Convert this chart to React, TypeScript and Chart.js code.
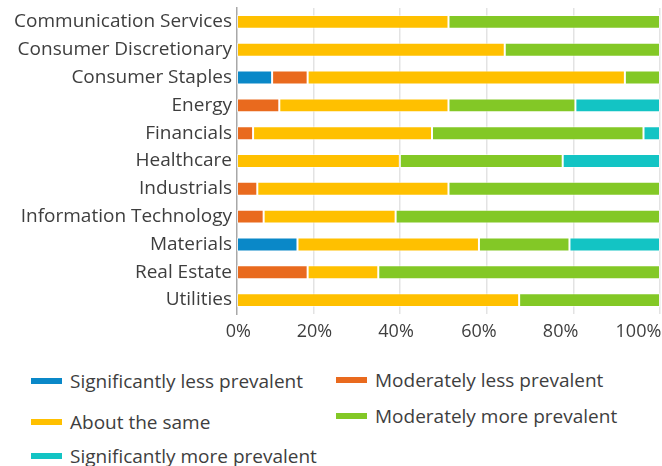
import React, { useEffect, useRef } from 'react';
import { Chart, registerables } from 'chart.js';

Chart.register(...registerables);

const CATEGORIES = [
  'Communication Services',
  'Consumer Discretionary',
  'Consumer Staples',
  'Energy',
  'Financials',
  'Healthcare',
  'Industrials',
  'Information Technology',
  'Materials',
  'Real Estate',
  'Utilities',
];

const SERIES_NAMES = [
  'Significantly less prevalent',
  'Moderately less prevalent',
  'About the same',
  'Moderately more prevalent',
  'Significantly more prevalent',
];

const SIG_LESS = [0, 0, 8.3, 0, 0, 0, 0, 0, 14.3, 0, 0];
const MOD_LESS = [0, 0, 8.4, 10, 3.8, 0, 4.8, 6.3, 0, 16.7, 0];
const ABOUT_SAME = [50, 63.3, 75, 40, 42.3, 38.5, 45.2, 31.2, 42.9, 16.7, 66.7];
const MOD_MORE = [50, 36.7, 8.3, 30, 50, 38.5, 50, 62.5, 21.4, 66.6, 33.3];
const SIG_MORE = [0, 0, 0, 20, 3.9, 23, 0, 0, 21.4, 0, 0];

const TICK_LABELS = ['0%', '20%', '40%', '60%', '80%', '100%'];

const COLORS = ['#0a88c8', '#e96a1e', '#ffc000', '#83c826', '#13c4c4'];

// layout / styling constants (not data)
const FONT = "'Open Sans', sans-serif";
const TEXT = '#3e3e3e';
const GRID_POS = [18.04, 38.53, 59.03, 79.5, 100];
const LABEL_POS = [0.3, 18.3, 37.6, 57.2, 76.5, 94.9];
const LEGEND_POS = [
  { left: 31, top: 369 },
  { left: 336, top: 368 },
  { left: 31, top: 410 },
  { left: 336, top: 404 },
  { left: 31, top: 444 },
];

export default function App() {
  const ref = useRef<HTMLCanvasElement | null>(null);

  useEffect(() => {
    const series = [SIG_LESS, MOD_LESS, ABOUT_SAME, MOD_MORE, SIG_MORE];
    const chart = new Chart(ref.current as HTMLCanvasElement, {
      type: 'bar',
      data: {
        labels: CATEGORIES,
        datasets: SERIES_NAMES.map((name, i) => ({
          label: name,
          data: series[i],
          backgroundColor: COLORS[i],
          borderColor: 'rgba(255,255,255,0.55)',
          borderWidth: 1,
          borderSkipped: false,
          barPercentage: 0.5,
          categoryPercentage: 1,
          xAxisID: 'x',
        })),
      },
      options: {
        indexAxis: 'y',
        animation: false,
        responsive: true,
        maintainAspectRatio: false,
        layout: { padding: { left: 0, right: 2, top: 8, bottom: 0 } },
        plugins: { legend: { display: false }, tooltip: { enabled: false } },
        scales: {
          y: {
            stacked: true,
            grid: { display: false, drawTicks: false },
            border: { display: true, color: '#a8a8a8', width: 1.5 },
            ticks: { padding: 5, color: TEXT, font: { family: FONT, size: 19 } },
            afterFit: (s: any) => {
              s.width = 237;
              s.paddingTop = 0;
              s.paddingBottom = 0;
            },
          },
          x: {
            type: 'linear',
            stacked: true,
            min: 0,
            max: 100,
            position: 'bottom',
            grid: { color: '#e3e3e3', lineWidth: 1.5, drawTicks: false },
            border: { display: false },
            ticks: { display: false },
            afterBuildTicks: (s: any) => {
              s.ticks = GRID_POS.map((v) => ({ value: v }));
            },
            afterFit: (s: any) => {
              s.height = 0;
              s.paddingLeft = 0;
              s.paddingRight = 0;
            },
          },
          xl: {
            type: 'linear',
            min: 0,
            max: 100,
            position: 'bottom',
            grid: { display: false, drawTicks: false },
            border: { display: false },
            ticks: {
              padding: 7,
              autoSkip: false,
              maxRotation: 0,
              color: TEXT,
              font: { family: FONT, size: 18 },
              callback: (_v: any, i: number) => TICK_LABELS[i],
            },
            afterBuildTicks: (s: any) => {
              s.ticks = LABEL_POS.map((v) => ({ value: v }));
            },
            afterFit: (s: any) => {
              s.height = 36;
              s.paddingLeft = 0;
              s.paddingRight = 0;
            },
          },
        },
      } as any,
    });
    return () => chart.destroy();
  }, []);

  return (
    <div style={{ position: 'absolute', left: 0, top: 0, width: 662, height: 466, background: '#fff', overflow: 'hidden' }}>
      <div style={{ position: 'absolute', left: 0, top: 0, width: 662, height: 350 }}>
        <canvas ref={ref} />
      </div>
      {SERIES_NAMES.map((name, i) => (
        <div
          key={name}
          style={{
            position: 'absolute',
            left: LEGEND_POS[i].left,
            top: LEGEND_POS[i].top,
            height: 24,
            display: 'flex',
            alignItems: 'center',
            whiteSpace: 'nowrap',
            fontFamily: FONT,
            fontSize: 19,
            color: TEXT,
          }}
        >
          <span style={{ display: 'inline-block', width: 31, height: 6, background: COLORS[i], marginRight: 8 }} />
          <span>{name}</span>
        </div>
      ))}
    </div>
  );
}
